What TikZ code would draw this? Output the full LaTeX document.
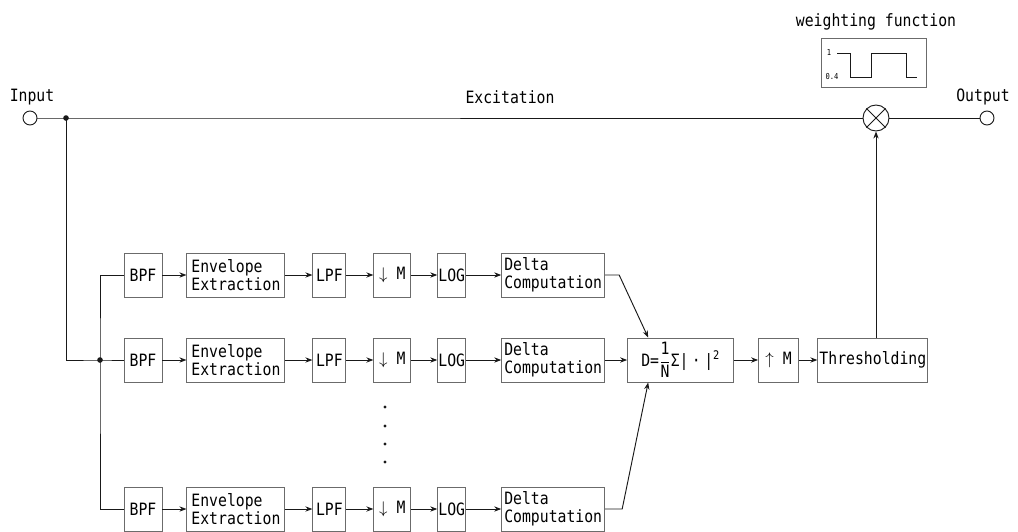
\documentclass[tikz,border=0pt]{standalone}
\usepackage{amsmath}
\usepackage{fontspec}
\setmainfont[FakeStretch=0.87]{DejaVu Sans Mono}
\usepackage{tikz}
\usetikzlibrary{arrows, arrows.meta, positioning, calc}
\definecolor{boxgray}{rgb}{0.42, 0.42, 0.42}
\definecolor{wiregray}{rgb}{0.1, 0.1, 0.1}

\begin{document}
\begin{tikzpicture}[
        x=0.03cm, y=-0.03cm,
        font=\fontsize{14.5}{15.5}\selectfont,
        block/.style={rectangle, draw=boxgray, line width=0.8pt, minimum height=1.32cm, inner sep=0.5pt, align=left},
        wire/.style={draw=wiregray, line width=0.8pt},
        arrow/.style={wire, ->, >={Stealth[length=6pt, width=4.5pt]}},
        port/.style={circle, draw=wiregray, line width=0.8pt, minimum size=0.42cm, inner sep=0pt}
    ]
        \useasboundingbox (0,0) rectangle (1018,531);

        % input, excitation path and output
        \node [port] (in) at (30,118) {};
        \node (inlabel) at (32,97) {Input};
        \node [port] (out) at (987,118) {};
        \node (outlabel) at (983,97) {Output};
        \node [circle, draw=wiregray, line width=0.8pt, minimum size=0.78cm, inner sep=0pt] (mult) at (876,118) {};
        \draw [wire] (mult.north west) -- (mult.south east) (mult.north east) -- (mult.south west);
        \node (exc) at (510,97) {Excitation};
        \coordinate (split) at (66,118);
        \coordinate (fork) at (100,360);

        % weighting function
        \node (wlabel) at (876,22) {weighting function};
        \node [rectangle, draw=boxgray, line width=0.8pt, minimum width=3.15cm, minimum height=1.47cm] (wbox) at (873.5,62.5) {};
        \draw [wire] (837,53) -- (850,53) -- (850,77) -- (871,77) -- (871,53) -- (906,53) -- (906,77) -- (917,77);
        \node [font=\fontsize{7}{8}\selectfont, inner sep=0pt] (one) at (829,53) {1};
        \node [font=\fontsize{7}{8}\selectfont, inner sep=0pt] (low) at (832,77) {0.4};

        % band 1
        \node [block, minimum width=1.14cm] (bpf1) at (143,275) {BPF};
        \node [block, minimum width=2.94cm, right=0.72cm of bpf1] (env1) {Envelope\\Extraction};
        \node [block, minimum width=0.99cm, right=0.81cm of env1] (lpf1) {LPF};
        \node [block, minimum width=1.11cm, right=0.81cm of lpf1] (down1) {$\downarrow$ M};
        \node [block, minimum width=0.84cm, right=0.78cm of down1] (log1) {LOG};
        \node [block, minimum width=3.09cm, right=1.05cm of log1] (delta1) {Delta\\Computation};

        % band 2
        \node [block, minimum width=1.14cm] (bpf2) at (143,360) {BPF};
        \node [block, minimum width=2.94cm, right=0.72cm of bpf2] (env2) {Envelope\\Extraction};
        \node [block, minimum width=0.99cm, right=0.81cm of env2] (lpf2) {LPF};
        \node [block, minimum width=1.11cm, right=0.81cm of lpf2] (down2) {$\downarrow$ M};
        \node [block, minimum width=0.84cm, right=0.78cm of down2] (log2) {LOG};
        \node [block, minimum width=3.09cm, right=1.05cm of log2] (delta2) {Delta\\Computation};
        \node [block, minimum width=3.18cm, right=0.66cm of delta2] (sumbox) {D=$\dfrac{\text{1}}{\text{N}}$Σ|\hspace{0.2em}·\hspace{0.2em}|$^{\text{2}}$};
        \node [block, minimum width=1.2cm, right=0.72cm of sumbox] (up) {$\uparrow$ M};
        \node [block, minimum width=3.3cm, right=0.55cm of up] (thresh) {Thresholding};

        % band N
        \node [block, minimum width=1.14cm] (bpf3) at (143,509) {BPF};
        \node [block, minimum width=2.94cm, right=0.72cm of bpf3] (env3) {Envelope\\Extraction};
        \node [block, minimum width=0.99cm, right=0.81cm of env3] (lpf3) {LPF};
        \node [block, minimum width=1.11cm, right=0.81cm of lpf3] (down3) {$\downarrow$ M};
        \node [block, minimum width=0.84cm, right=0.78cm of down3] (log3) {LOG};
        \node [block, minimum width=3.09cm, right=1.05cm of log3] (delta3) {Delta\\Computation};

        \foreach \y in {407,426,444,462}
            \fill [wiregray] (385,\y) circle [radius=1.4pt];

        % wiring
        \draw [wire] (in) -- (split) -- (mult);
        \draw [wire] (mult) -- (out);
        \draw [wire] (split) |- (fork) -- (bpf2);
        \draw [wire] (bpf1.west) -| (fork) |- (bpf3.west);
        \fill [wiregray] (split) circle [radius=2.4pt] (fork) circle [radius=2.4pt];

        \draw [arrow] (bpf1) -- (env1);
        \draw [arrow] (env1) -- (lpf1);
        \draw [arrow] (lpf1) -- (down1);
        \draw [arrow] (down1) -- (log1);
        \draw [arrow] (log1) -- (delta1);

        \draw [arrow] (bpf2) -- (env2);
        \draw [arrow] (env2) -- (lpf2);
        \draw [arrow] (lpf2) -- (down2);
        \draw [arrow] (down2) -- (log2);
        \draw [arrow] (log2) -- (delta2);

        \draw [arrow] (bpf3) -- (env3);
        \draw [arrow] (env3) -- (lpf3);
        \draw [arrow] (lpf3) -- (down3);
        \draw [arrow] (down3) -- (log3);
        \draw [arrow] (log3) -- (delta3);

        \draw [arrow] (delta1.east) -- ++(14,0) -- ([xshift=0.63cm]sumbox.north west);
        \draw [arrow] (delta2) -- (sumbox);
        \draw [arrow] (delta3.east) -- ++(17,0) -- ([xshift=0.63cm]sumbox.south west);
        \draw [arrow] (sumbox) -- (up);
        \draw [arrow] (up) -- (thresh);
        \draw [arrow] (thresh.north -| mult.south) -- (mult.south);
    \end{tikzpicture}
\end{document}
